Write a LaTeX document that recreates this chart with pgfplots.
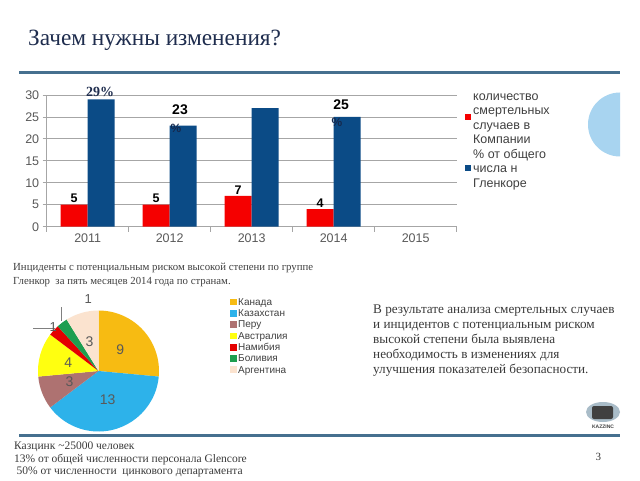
\documentclass[border=0pt]{standalone}
\usepackage{pgfplots}
\pgfplotsset{compat=1.18}
\usepackage{fontspec}
\setmainfont{Liberation Serif}
\newfontfamily\arial{Liberation Sans}
\definecolor{titleblue}{HTML}{1F2D4E}
\definecolor{rulecol}{HTML}{46708F}
\definecolor{barred}{HTML}{F50000}
\definecolor{barblue}{HTML}{0B4B86}
\definecolor{gridgray}{HTML}{A6A6A6}
\definecolor{ticktext}{HTML}{595959}
\definecolor{txtgray}{HTML}{3A3A3A}
\definecolor{leggray}{HTML}{404040}
\definecolor{pctblue}{HTML}{15284C}
\definecolor{cCanada}{HTML}{F7BB12}
\definecolor{cKaz}{HTML}{2DB2EA}
\definecolor{cPeru}{HTML}{AE7271}
\definecolor{cAus}{HTML}{FFFF10}
\definecolor{cNam}{HTML}{E40000}
\definecolor{cBol}{HTML}{1E9E50}
\definecolor{cArg}{HTML}{FBE3CF}
\definecolor{semiblue}{HTML}{A8D4F0}
\definecolor{logogray}{HTML}{A9BCC8}

\begin{document}
\begin{tikzpicture}[x=1pt,y=1pt]
\useasboundingbox (0,0) rectangle (640,480);
\fill[white] (0,0) rectangle (640,480);
% title and rules
\node[anchor=base west, inner sep=0, font=\fontsize{23.3}{26}\selectfont, text=titleblue] at (28,434) {Зачем нужны изменения?};
\draw[rulecol, line width=3pt] (19,407) -- (620,407);
\draw[rulecol, line width=3pt] (19,45) -- (620,45);
\fill[semiblue] (620,323.5) arc[start angle=-90, end angle=-270, radius=32] -- cycle;

% bar chart
\begin{axis}[at={(46.7pt,253.3pt)}, anchor=south west, scale only axis,
  width=410pt, height=131.7pt,
  xmin=-0.5, xmax=4.5, ymin=0, ymax=30,
  axis x line*=bottom, axis y line*=left,
  axis line style={gridgray, -, line width=0.8pt},
  ytick={0,5,...,30}, ymajorgrids, grid style={gridgray, line width=0.8pt},
  xtick={0,1,2,3,4}, xticklabels={2011,2012,2013,2014,2015},
  major x tick style={draw=none},
  minor xtick={-0.5,0.5,1.5,2.5,3.5,4.5},
  minor x tick style={draw=gridgray, line width=0.8pt},
  minor tick length=5pt, major tick length=4pt,
  y tick style={draw=gridgray, line width=0.8pt},
  tick align=outside, tick pos=left,
  ticklabel style={font=\arial\fontsize{12.5}{14}\selectfont, text=ticktext},
  /pgf/number format/assume math mode=true,
  clip=false,
]
\addplot[ybar, bar width=27pt, bar shift=-13.5pt, fill=barred, draw=none,
  nodes near coords, nodes near coords style={font=\arial\bfseries\fontsize{12.5}{14}\selectfont, text=black, anchor=south, inner sep=1.5pt, xshift=-13.5pt}]
  coordinates {(0,5) (1,5) (2,7) (3,4)};
\addplot[ybar, bar width=27pt, bar shift=13.5pt, fill=barblue, draw=none]
  coordinates {(0,29) (1,23) (2,27) (3,25)};
\node[font=\fontsize{14}{15}\selectfont\bfseries, text=titleblue] at (axis cs:0.15,30.7) {29\%};
\node[font=\arial\bfseries\fontsize{14}{15}\selectfont, text=black] at (axis cs:1.126,26.6) {23};
\node[font=\arial\bfseries\fontsize{12}{13}\selectfont, text=pctblue] at (axis cs:1.077,22.5) {\%};
\node[font=\arial\bfseries\fontsize{14}{15}\selectfont, text=black] at (axis cs:3.09,27.7) {25};
\node[font=\arial\bfseries\fontsize{12}{13}\selectfont, text=pctblue] at (axis cs:3.04,23.8) {\%};
\end{axis}

% bar legend
\fill[barred] (465.3,359.7) rectangle +(6,6);
\fill[barblue] (464.7,308.7) rectangle +(6,6);
\foreach \yy/\tt in {379.5/количество, 365.2/смертельных, 350.5/случаев в, 336.2/Компании, 321.5/\% от общего, 307.2/числа н/с в, 292.8/Гленкоре} {
  \node[anchor=base west, inner sep=0, font=\arial\fontsize{12.5}{14}\selectfont, text=leggray] at (473,\yy) {\tt};
}

% captions
\node[anchor=base west, inner sep=0, font=\fontsize{10.8}{12}\selectfont, text=leggray] at (13,209.8) {Инциденты с потенциальным риском высокой степени по группе};
\node[anchor=base west, inner sep=0, font=\fontsize{10.8}{12}\selectfont, text=leggray] at (13,195.8) {Гленкор\ \ за пять месяцев 2014 года по странам.};

% pie chart
\begin{axis}[at={(98.5pt,109pt)}, anchor=center, scale only axis,
  width=121pt, height=121pt, xmin=-1, xmax=1, ymin=-1, ymax=1,
  hide axis, clip=false]
\pgfplotsextra{
  \gdef\cum{0}
  \foreach \v/\c in {9/cCanada,13/cKaz,3/cPeru,4/cAus,1/cNam,1/cBol,3/cArg} {
    \pgfmathsetmacro\a{90-\cum*360/34}
    \pgfmathsetmacro\b{90-(\cum+\v)*360/34}
    \fill[\c] (axis cs:0,0) -- ++(\a:60.5pt) arc[start angle=\a, end angle=\b, radius=60.5pt] -- cycle;
    \pgfmathsetmacro\newcum{\cum+\v}
    \global\let\cum\newcum
  }
}
\draw[gray, line width=0.8pt] (axis cs:-0.61,1.05) -- (axis cs:-0.61,0.83);
\draw[gray, line width=0.8pt] (axis cs:-1.08,0.71) -- (axis cs:-0.72,0.71);
\node[font=\arial\fontsize{14}{15}\selectfont, text=ticktext] at (axis cs:0.36,0.355) {9};
\node[font=\arial\fontsize{14}{15}\selectfont, text=ticktext] at (axis cs:0.15,-0.48) {13};
\node[font=\arial\fontsize{14}{15}\selectfont, text=ticktext] at (axis cs:-0.48,-0.17) {3};
\node[font=\arial\fontsize{14}{15}\selectfont, text=ticktext] at (axis cs:-0.5,0.13) {4};
\node[font=\arial\fontsize{14}{15}\selectfont, text=ticktext] at (axis cs:-0.15,0.48) {3};
\node[font=\arial\fontsize{13}{15}\selectfont, text=ticktext] at (axis cs:-0.17,1.19) {1};
\node[font=\arial\fontsize{13}{15}\selectfont, text=ticktext] at (axis cs:-0.75,0.73) {1};
\end{axis}

% pie legend
\foreach \yy/\c/\tt in {174.7/cCanada/Канада, 163.4/cKaz/Казахстан, 152.1/cPeru/Перу, 140.8/cAus/Австралия, 129.5/cNam/Намибия, 118.2/cBol/Боливия, 107/cArg/Аргентина} {
  \fill[\c] (230,\yy) rectangle +(6.6,6.6);
  \node[anchor=base west, inner sep=0, font=\arial\fontsize{10}{11}\selectfont, text=leggray] at (238,\yy) {\tt};
}

% right text block
\foreach \yy/\tt in {167/В результате анализа смертельных случаев, 152/и инцидентов с потенциальным риском, 137/высокой степени была выявлена, 122/необходимость в изменениях для, 107/улучшения показателей безопасности.} {
  \node[anchor=base west, inner sep=0, font=\fontsize{13.2}{15}\selectfont, text=txtgray] at (373,\yy) {\tt};
}

% logo
\fill[logogray] (603,68) ellipse [x radius=17, y radius=10];
\fill[black!75, rounded corners=2pt] (592,61) rectangle (613,74);
\node[font=\arial\bfseries\fontsize{5}{6}\selectfont, text=black!75] at (603,53.3) {KAZZINC};

% bottom text
\node[anchor=base west, inner sep=0, font=\fontsize{11.5}{13}\selectfont, text=txtgray] at (14,30.5) {Казцинк \textasciitilde25000 человек};
\node[anchor=base west, inner sep=0, font=\fontsize{11.5}{13}\selectfont, text=txtgray] at (14,17.5) {13\% от общей численности персонала Glencore};
\node[anchor=base west, inner sep=0, font=\fontsize{11.5}{13}\selectfont, text=txtgray] at (16.5,5.5) {50\% от численности\ \ цинкового департамента};
\node[font=\fontsize{11}{12}\selectfont, text=txtgray] at (598.3,22.7) {3};
\end{tikzpicture}
\end{document}
